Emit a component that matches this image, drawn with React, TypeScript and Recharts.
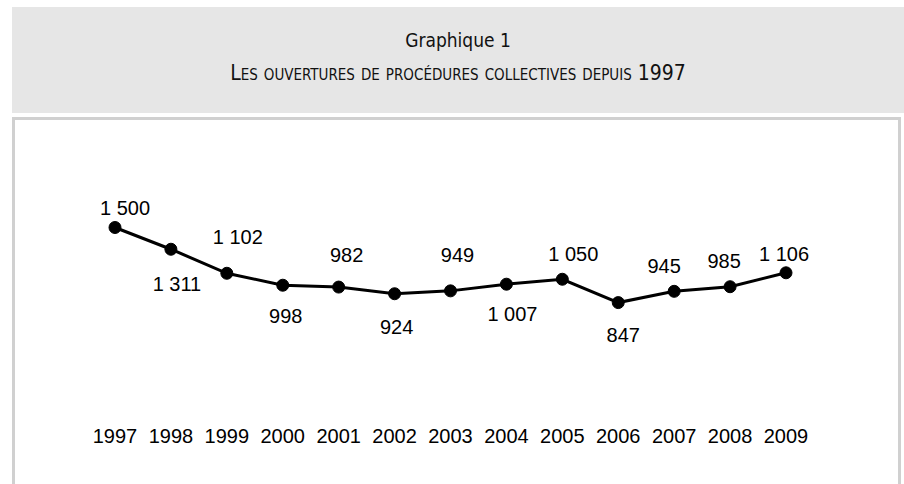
import React from "react";
import { LineChart, Line, XAxis, YAxis, LabelList } from "recharts";

const years = ["1997", "1998", "1999", "2000", "2001", "2002", "2003", "2004", "2005", "2006", "2007", "2008", "2009"];
const openings = [1500, 1311, 1102, 998, 982, 924, 949, 1007, 1050, 847, 945, 985, 1106];

// where each value label sits relative to its point (dx, dy)
const labelDx = [10, 6, 11, 3, 8, 2, 7, 6, 11, 5, -10, -6, -2];
const labelDy = [-20, 35, -36, 31, -32, 33, -36, 30, -25, 32, -25, -26, -19];

const data = years.map((year, i) => ({ year, value: openings[i] }));

const fmt = (v: number) => String(v).replace(/\B(?=(\d{3})+(?!\d))/g, " ");

const numFont = "'Liberation Sans', Arial, sans-serif";
const titleFont = "'DejaVu Sans Condensed', 'DejaVu Sans', sans-serif";

const ValueLabel = (props: any) => {
  const { x, y, index, value } = props;
  return (
    <text
      x={x + labelDx[index]}
      y={y + labelDy[index]}
      textAnchor="middle"
      dominantBaseline="central"
      fontFamily={numFont}
      fontSize={20}
      fill="#000"
    >
      {fmt(value)}
    </text>
  );
};

export default function App() {
  return (
    <div
      style={{
        position: "absolute",
        left: 0,
        top: 0,
        width: 904,
        height: 484,
        overflow: "hidden",
        background: "#fff",
      }}
    >
      <div
        style={{
          position: "absolute",
          left: 12,
          top: 7,
          width: 892,
          height: 106,
          background: "#e6e6e6",
          fontFamily: titleFont,
          color: "#111",
          textAlign: "center",
        }}
      >
        <div style={{ position: "absolute", left: 0, right: 0, top: 22, fontSize: 19, lineHeight: "22px" }}>
          Graphique 1
        </div>
        <div
          style={{
            position: "absolute",
            left: 0,
            right: 0,
            top: 54,
            fontSize: 21,
            lineHeight: "24px",
            fontVariant: "small-caps",
          }}
        >
          Les ouvertures de procédures collectives depuis 1997
        </div>
      </div>
      <div
        style={{
          position: "absolute",
          left: 12,
          top: 117,
          width: 883,
          height: 400,
          border: "3px solid #d0d0d0",
          background: "#fff",
        }}
      />
      <div style={{ position: "absolute", left: 0, top: 0 }}>
        <LineChart
          width={904}
          height={484}
          data={data}
          margin={{ top: 193, right: 118, bottom: 34, left: 115 }}
        >
          <XAxis
            dataKey="year"
            type="category"
            interval={0}
            axisLine={false}
            tickLine={false}
            height={50}
            tickMargin={23}
            tick={{ fontFamily: numFont, fontSize: 20, fill: "#000" }}
          />
          <YAxis hide domain={[0, 1800]} />
          <Line
            type="linear"
            dataKey="value"
            stroke="#000"
            strokeWidth={3}
            dot={{ r: 6, fill: "#000", stroke: "#000", strokeWidth: 1 }}
            activeDot={false}
            isAnimationActive={false}
          >
            <LabelList dataKey="value" content={<ValueLabel />} />
          </Line>
        </LineChart>
      </div>
    </div>
  );
}
